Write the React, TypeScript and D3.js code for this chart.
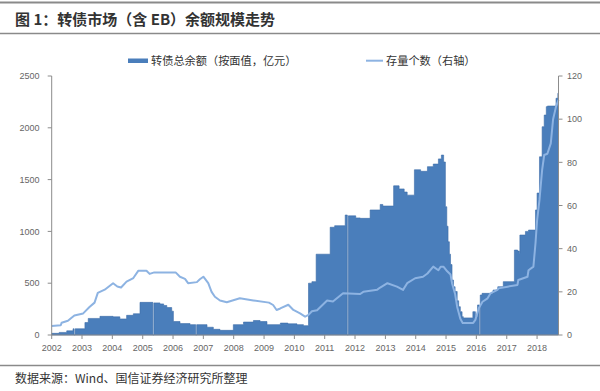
import React from "react";
import * as d3 from "d3";

// 转债总余额（按面值，亿元）— step data (date, value)
const amountDates: string[] = [
  "2002-01-01","2002-04-01","2002-07-01","2002-09-15","2002-09-28","2002-10-10",
  "2003-02-05","2003-03-17","2003-08-05","2004-01-10","2004-04-01","2004-06-21",
  "2004-09-10","2004-11-29","2005-05-03","2005-05-15","2005-07-27","2005-09-10",
  "2005-10-18","2005-12-16","2006-01-05","2006-03-26","2006-07-25","2006-10-01",
  "2006-10-13","2007-02-14","2007-05-01","2007-07-20","2007-12-28","2008-04-28",
  "2008-08-26","2008-11-14","2009-02-05","2009-07-16","2009-10-15","2010-02-01",
  "2010-04-20","2010-06-20","2010-07-31","2010-09-20","2011-03-08","2011-05-01",
  "2011-09-05","2011-09-30","2011-10-12","2012-01-10","2012-03-03","2012-07-01",
  "2012-10-30","2012-12-01","2013-04-10","2013-06-15","2013-08-15","2013-09-20",
  "2013-12-16","2014-03-01","2014-05-22","2014-07-31","2014-10-01","2014-11-06",
  "2014-12-03","2014-12-24","2015-01-10","2015-01-25","2015-02-10","2015-02-24",
  "2015-03-14","2015-04-01","2015-04-20","2015-05-15","2015-06-02","2015-06-22",
  "2015-07-13","2015-07-28","2015-11-20","2015-12-20","2016-01-15","2016-02-05",
  "2016-02-17","2016-03-10","2016-07-20","2016-09-15","2016-11-20","2017-04-03",
  "2017-05-12","2017-06-01","2017-06-08","2017-08-14","2017-09-20","2017-12-13",
  "2018-01-01","2018-01-30","2018-03-03","2018-03-28","2018-04-22","2018-05-05",
  "2018-08-17","2018-09-08","2018-09-16",
];
const amountValues: number[] = [
  16, 25, 40, 60, 0, 60,
  120, 160, 180, 175, 155, 190,
  205, 315, 0, 310, 300, 285,
  265, 230, 130, 110, 100, 0,
  100, 75, 55, 45, 100, 125,
  140, 130, 100, 115, 108, 100,
  90, 500, 515, 780, 1040, 1055,
  1158, 0, 1150, 1130, 1126, 1207,
  1260, 1245, 1440, 1410, 1380, 1350,
  1595, 1580, 1625, 1650, 1700, 1737,
  1670, 1238, 1050, 900, 780, 680,
  530, 466, 420, 330, 273, 225,
  177, 165, 225, 177, 290, 0,
  386, 402, 434, 466, 515, 820,
  810, 790, 965, 1000, 1013, 1207,
  1370, 1720, 2010, 2123, 2204, 2210,
  2285, 2333, 2333,
];

// 存量个数（右轴）
const countDates: string[] = [
  "2002-01-01","2002-04-20","2002-05-01","2002-07-15","2002-10-01","2003-01-15",
  "2003-04-01","2003-06-01","2003-07-10","2003-10-01","2004-01-10","2004-03-01",
  "2004-04-15","2004-06-20","2004-09-10","2004-11-10","2005-02-15","2005-03-25",
  "2005-05-20","2006-02-01","2006-03-25","2006-05-25","2006-07-01","2006-10-15",
  "2006-11-20","2007-01-01","2007-03-01","2007-04-10","2007-05-20","2007-07-20",
  "2007-10-10","2008-03-15","2008-08-25","2009-03-01","2009-04-20","2009-06-01",
  "2009-07-15","2009-10-20","2009-12-20","2010-03-10","2010-05-10","2010-06-20",
  "2010-07-31","2010-10-01","2011-01-30","2011-04-10","2011-08-10","2012-03-03",
  "2012-04-10","2012-09-25","2012-10-30","2013-01-25","2013-05-20","2013-08-01",
  "2013-09-20","2013-12-25","2014-03-30","2014-05-22","2014-07-31","2014-10-01",
  "2014-10-28","2014-12-03","2015-01-15","2015-02-24","2015-03-14","2015-04-20",
  "2015-05-15","2015-06-22","2015-07-20","2015-11-24","2015-12-20","2016-01-30",
  "2016-03-15","2016-05-15","2016-06-20","2016-09-10","2016-09-25","2017-01-10",
  "2017-05-10","2017-05-20","2017-09-08","2017-09-20","2017-11-18","2017-12-13",
  "2018-01-01","2018-01-30","2018-03-03","2018-03-28","2018-05-05","2018-06-15",
  "2018-07-13","2018-08-17","2018-09-16",
];
const countValues: number[] = [
  4.2, 4.5, 5.7, 6.6, 9, 10,
  13, 15, 19.5, 21, 24, 22.5,
  22, 24.7, 26.4, 29.8, 29.8, 28.3,
  29, 29, 27, 26, 24, 24.5,
  25.8, 27, 24, 20, 17.7, 16,
  15.2, 17, 16, 15, 13.9, 11.6,
  12.3, 14, 11.6, 10, 8.5, 9.3,
  11, 11.5, 16, 15.5, 19.3, 19,
  20, 21, 22, 24, 22.4, 20.9,
  24, 26.3, 27, 28.5, 31.7, 30,
  31.6, 31.6, 29.5, 28, 24, 19,
  13, 7.5, 5.6, 5.6, 7, 12.4,
  15.4, 17, 19.3, 20.9, 21.6, 22.4,
  23.2, 25.5, 27, 30, 31.7, 42.5,
  53, 62.6, 76.5, 83.4, 84, 88.8,
  100, 105.8, 109,
];

const yearTicks: number[] = [2002,2003,2004,2005,2006,2007,2008,2009,2010,2011,2012,2013,2014,2015,2016,2017,2018];
const leftTicks: number[] = [0, 500, 1000, 1500, 2000, 2500];
const rightTicks: number[] = [0, 20, 40, 60, 80, 100, 120];

const title = "图 1：转债市场（含 EB）余额规模走势";
const legendAmount = "转债总余额（按面值，亿元）";
const legendCount = "存量个数（右轴）";
const source = "数据来源：Wind、国信证券经济研究所整理";

export default function App() {
  const W = 600, H = 391;
  const left = 51.7, right = 558.5, top = 76, bottom = 335;
  const parse = d3.timeParse("%Y-%m-%d");
  const x = d3.scaleTime()
    .domain([parse("2002-01-01")!, parse("2018-09-16")!])
    .range([left, right]);
  const yL = d3.scaleLinear().domain([0, 2500]).range([bottom, top]);
  const yR = d3.scaleLinear().domain([0, 120]).range([bottom, top]);

  const amount = amountDates.map((d, i) => ({ t: parse(d)!, v: amountValues[i] }));
  const count = countDates.map((d, i) => ({ t: parse(d)!, v: countValues[i] }));

  const areaGen = d3.area<{ t: Date; v: number }>()
    .x(d => x(d.t)).y0(bottom).y1(d => yL(d.v)).curve(d3.curveStepAfter);
  const lineGen = d3.line<{ t: Date; v: number }>()
    .x(d => x(d.t)).y(d => yR(d.v)).curve(d3.curveLinear);

  const axisColor = "#8c8c8c";
  const labelColor = "#666";
  const sans = "'Liberation Sans', Arial, sans-serif";
  const cjk = "'Noto Sans CJK SC', 'Noto Sans', sans-serif";

  return (
    <svg width={W} height={H} style={{ position: "absolute", left: 0, top: 0, background: "#fff" }}>
      <rect x={0} y={0} width={W} height={H} fill="#fff" />
      {/* header */}
      <line x1={0} x2={W} y1={2.5} y2={2.5} stroke="#8a8a8a" strokeWidth={2} />
      <text x={15} y={24.5} fontFamily={cjk} fontWeight="bold" fontSize={15} fill="#333">{title}</text>
      <line x1={0} x2={W} y1={33.5} y2={33.5} stroke="#8a8a8a" strokeWidth={1.5} />

      {/* legend */}
      <rect x={128} y={58.5} width={20} height={4.5} fill="#4a7ebb" />
      <text x={151} y={64.5} fontFamily={cjk} fontSize={11.2} fill="#333">{legendAmount}</text>
      <line x1={366} x2={383} y1={60.7} y2={60.7} stroke="#8db3e2" strokeWidth={2} />
      <text x={386} y={64.5} fontFamily={cjk} fontSize={11.2} fill="#333">{legendCount}</text>

      {/* area */}
      <path d={areaGen(amount) || ""} fill="#4a7ebb" stroke="#3d6ca8" strokeWidth={0.6} />
      {/* line */}
      <path d={lineGen(count) || ""} fill="none" stroke="#8db3e2" strokeWidth={2} strokeLinejoin="round" />

      {/* axes */}
      <line x1={left} x2={left} y1={top} y2={bottom} stroke={axisColor} strokeWidth={1} />
      <line x1={right} x2={right} y1={top} y2={bottom} stroke={axisColor} strokeWidth={1} />
      <line x1={left} x2={right} y1={bottom} y2={bottom} stroke={axisColor} strokeWidth={1} />
      {leftTicks.map(t => (
        <g key={"l" + t}>
          <line x1={left - 4} x2={left} y1={yL(t)} y2={yL(t)} stroke={axisColor} />
          <text x={39.5} y={yL(t) + 3.2} textAnchor="end" fontFamily={sans} fontSize={9} fill={labelColor}>{t}</text>
        </g>
      ))}
      {rightTicks.map(t => (
        <g key={"r" + t}>
          <line x1={right} x2={right + 4} y1={yR(t)} y2={yR(t)} stroke={axisColor} />
          <text x={567} y={yR(t) + 3.2} textAnchor="start" fontFamily={sans} fontSize={9} fill={labelColor}>{t}</text>
        </g>
      ))}
      {yearTicks.map(yv => {
        const px = x(new Date(yv, 0, 1));
        return (
          <g key={"x" + yv}>
            <line x1={px} x2={px} y1={bottom} y2={bottom + 4} stroke={axisColor} />
            <text x={px} y={350.5} textAnchor="middle" fontFamily={sans} fontSize={9} fill={labelColor}>{yv}</text>
          </g>
        );
      })}

      {/* footer */}
      <line x1={0} x2={W} y1={365.5} y2={365.5} stroke="#8a8a8a" strokeWidth={1.5} />
      <text x={15} y={383} fontFamily={cjk} fontSize={12} fill="#333">{source}</text>
    </svg>
  );
}
